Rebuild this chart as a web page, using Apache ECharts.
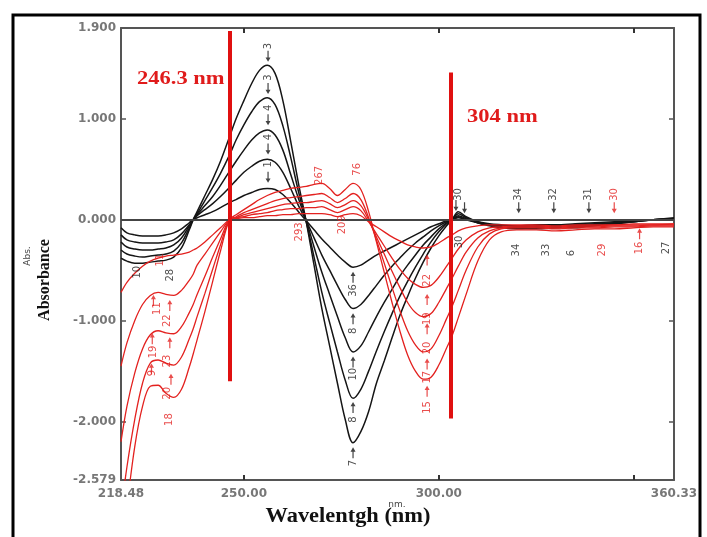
<!DOCTYPE html>
<html><head><meta charset="utf-8">
<script src="https://cdn.jsdelivr.net/npm/echarts@6/dist/echarts.min.js"></script>
<style>html,body{margin:0;padding:0;background:#fff}#c{width:707px;height:537px}</style>
</head><body><div id="c"></div>
<script>
const wavelength = [218.48,220,222,224,226,228,230,232,234,236,237,238,240,242,244,246.3,248,250,252,254,256,258,260,262,264,266,268,270,272,274,276,278,280,282,284,286,288,290,292,294,296,298,300,302,303.4,305,307,310,313,316,320,325,330,335,340,345,350,355,360.33];

const black1 = [-0.38,-0.41,-0.43,-0.43,-0.42,-0.41,-0.40,-0.37,-0.28,-0.10,0.00,0.08,0.24,0.40,0.58,0.82,1.00,1.18,1.35,1.48,1.53,1.45,1.18,0.78,0.36,-0.02,-0.45,-0.88,-1.25,-1.62,-1.98,-2.21,-2.10,-1.90,-1.62,-1.40,-1.17,-0.95,-0.76,-0.58,-0.42,-0.28,-0.16,-0.06,0.00,0.08,0.03,-0.02,-0.05,-0.07,-0.08,-0.09,-0.08,-0.07,-0.06,-0.04,-0.02,0.00,0.02];
const black2 = [-0.30,-0.34,-0.36,-0.37,-0.36,-0.35,-0.34,-0.31,-0.23,-0.08,0.00,0.06,0.19,0.32,0.46,0.64,0.79,0.94,1.07,1.17,1.21,1.14,0.93,0.62,0.28,-0.02,-0.37,-0.72,-1.02,-1.31,-1.59,-1.77,-1.68,-1.50,-1.30,-1.11,-0.93,-0.76,-0.61,-0.47,-0.34,-0.22,-0.12,-0.04,0.00,0.06,0.02,-0.03,-0.06,-0.08,-0.09,-0.08,-0.07,-0.08,-0.05,-0.04,-0.02,0.00,0.01];
const black3 = [-0.22,-0.27,-0.29,-0.30,-0.30,-0.29,-0.28,-0.25,-0.18,-0.06,0.00,0.05,0.14,0.23,0.34,0.48,0.58,0.69,0.79,0.86,0.89,0.84,0.69,0.45,0.21,-0.01,-0.27,-0.52,-0.74,-0.96,-1.17,-1.31,-1.25,-1.11,-0.96,-0.82,-0.69,-0.56,-0.45,-0.35,-0.25,-0.17,-0.09,-0.03,0.00,0.04,0.01,-0.03,-0.05,-0.07,-0.08,-0.07,-0.08,-0.06,-0.05,-0.03,-0.02,0.00,0.01];
const black4 = [-0.15,-0.20,-0.22,-0.23,-0.23,-0.23,-0.22,-0.20,-0.14,-0.05,0.00,0.04,0.10,0.16,0.23,0.32,0.39,0.47,0.53,0.58,0.60,0.57,0.47,0.31,0.14,-0.01,-0.18,-0.35,-0.50,-0.65,-0.79,-0.88,-0.84,-0.75,-0.65,-0.55,-0.46,-0.38,-0.30,-0.23,-0.17,-0.11,-0.06,-0.02,0.00,0.03,0.00,-0.03,-0.05,-0.06,-0.07,-0.06,-0.06,-0.05,-0.04,-0.03,-0.01,0.00,0.01];
const black5 = [-0.08,-0.13,-0.15,-0.16,-0.16,-0.16,-0.15,-0.13,-0.09,-0.03,0.00,0.02,0.05,0.08,0.12,0.17,0.20,0.24,0.27,0.30,0.31,0.30,0.25,0.17,0.08,-0.01,-0.10,-0.19,-0.27,-0.35,-0.42,-0.47,-0.45,-0.40,-0.35,-0.31,-0.27,-0.23,-0.19,-0.15,-0.11,-0.07,-0.04,-0.01,0.00,0.02,0.00,-0.02,-0.04,-0.05,-0.06,-0.05,-0.05,-0.04,-0.03,-0.02,-0.01,0.00,0.00];

const red1 = [-0.72,-0.62,-0.53,-0.46,-0.41,-0.38,-0.36,-0.35,-0.34,-0.32,-0.30,-0.28,-0.22,-0.15,-0.08,0.00,0.01,0.02,0.02,0.03,0.04,0.04,0.05,0.05,0.06,0.06,0.06,0.06,0.05,0.03,0.05,0.06,0.04,-0.02,-0.07,-0.12,-0.17,-0.21,-0.25,-0.27,-0.28,-0.27,-0.23,-0.18,-0.15,-0.11,-0.08,-0.06,-0.05,-0.05,-0.05,-0.05,-0.06,-0.05,-0.05,-0.05,-0.04,-0.04,-0.04];
const red2 = [-1.45,-1.22,-1.00,-0.84,-0.75,-0.72,-0.74,-0.75,-0.70,-0.60,-0.54,-0.45,-0.34,-0.23,-0.12,0.00,0.02,0.03,0.05,0.06,0.07,0.09,0.10,0.11,0.11,0.12,0.12,0.13,0.10,0.07,0.10,0.13,0.09,-0.02,-0.14,-0.26,-0.38,-0.49,-0.58,-0.64,-0.67,-0.65,-0.57,-0.46,-0.38,-0.29,-0.20,-0.12,-0.08,-0.07,-0.06,-0.06,-0.07,-0.06,-0.06,-0.05,-0.05,-0.05,-0.04];
const red3 = [-2.20,-1.85,-1.52,-1.28,-1.14,-1.10,-1.12,-1.13,-1.06,-0.92,-0.84,-0.74,-0.56,-0.37,-0.19,0.00,0.02,0.05,0.07,0.09,0.11,0.13,0.15,0.16,0.17,0.17,0.18,0.19,0.16,0.12,0.15,0.19,0.14,0.00,-0.17,-0.34,-0.51,-0.67,-0.82,-0.92,-0.96,-0.93,-0.82,-0.68,-0.58,-0.46,-0.32,-0.18,-0.11,-0.08,-0.07,-0.07,-0.08,-0.07,-0.07,-0.06,-0.06,-0.05,-0.05];
const red4 = [-2.90,-2.45,-1.98,-1.62,-1.42,-1.39,-1.42,-1.44,-1.36,-1.18,-1.08,-0.96,-0.73,-0.49,-0.25,0.00,0.03,0.07,0.10,0.13,0.16,0.19,0.21,0.22,0.23,0.24,0.25,0.26,0.22,0.17,0.21,0.26,0.20,0.02,-0.20,-0.43,-0.67,-0.90,-1.10,-1.24,-1.31,-1.28,-1.15,-0.98,-0.86,-0.70,-0.50,-0.27,-0.14,-0.09,-0.08,-0.08,-0.09,-0.08,-0.08,-0.07,-0.07,-0.06,-0.06];
const red5 = [-3.40,-2.85,-2.25,-1.85,-1.65,-1.64,-1.72,-1.76,-1.68,-1.46,-1.33,-1.19,-0.91,-0.61,-0.31,0.00,0.05,0.10,0.15,0.20,0.24,0.27,0.29,0.31,0.32,0.33,0.35,0.36,0.31,0.24,0.30,0.36,0.30,0.08,-0.22,-0.52,-0.82,-1.10,-1.34,-1.50,-1.58,-1.56,-1.44,-1.27,-1.15,-0.97,-0.74,-0.41,-0.20,-0.12,-0.10,-0.10,-0.11,-0.10,-0.09,-0.09,-0.08,-0.07,-0.07];

const xTickLabels = [218.48, 250, 300, 360.33];
const xTicks = [250, 300, 350];
const yTickLabels = [1.9, 1, 0, -1, -2, -2.579];
const yTicks = [1, 0, -1, -2];

const markerWavelengths = [246.3, 303.1];
const markerTop = [1.87, 1.46];
const markerBottom = [-1.60, -1.97];

const tagWavelength = [256.2,256.2,256.2,256.2,256.2, 278,278,278,278,278, 297,297,297,297,297, 227.7,230.3,226.7,230.3,226.5,230.5,230.8, 222.6,228.6,231.2, 269.5,279.0,264.3,275.4, 305.0,305.2, 320.5,329.5,338.5,345.0,319.8,327.5,334.0,342.0,351.5,358.5];
const tagValue = [1.72,1.41,1.11,0.82,0.55, -0.70,-1.10,-1.53,-1.98,-2.41, -0.60,-0.98,-1.27,-1.56,-1.86, -0.88,-1.00,-1.31,-1.40,-1.52,-1.72,-1.98, -0.52,-0.40,-0.55, 0.44,0.50,-0.12,-0.05, 0.25,-0.22, 0.25,0.25,0.25,0.25,-0.30,-0.30,-0.33,-0.30,-0.28,-0.28];
const tagText = ["3","3","4","4","1", "36","8","10","8","7", "22","19","20","17","15", "11","22","19","23","9","20","18", "10","11","28", "267","76","293","209", "30","30", "34","32","31","30","34","33","6","29","16","27"];
const tagIsRed = [0,0,0,0,0, 0,0,0,0,0, 1,1,1,1,1, 1,1,1,1,1,1,1, 0,1,0, 1,1,1,1, 0,0, 0,0,0,1,0,0,0,1,1,0];

const arrowWavelength = [256.2,256.2,256.2,256.2,256.2, 278,278,278,278,278, 297,297,297,297,297, 226.8,231.0,226.5,231.0,226.3,231.3, 304.4,306.6, 320.5,329.5,338.5,345.0,351.5];
const arrowValue = [1.62,1.30,0.99,0.70,0.42, -0.57,-0.98,-1.41,-1.86,-2.31, -0.40,-0.79,-1.08,-1.43,-1.70, -0.80,-0.85,-1.18,-1.22,-1.48,-1.58, 0.14,0.12, 0.12,0.12,0.12,0.12,-0.14];
const arrowUp = [0,0,0,0,0, 1,1,1,1,1, 1,1,1,1,1, 1,1,1,1,1,1, 0,0, 0,0,0,0,1];
const arrowIsRed = [0,0,0,0,0, 0,0,0,0,0, 1,1,1,1,1, 1,1,1,1,1,1, 0,0, 0,0,0,1,1];

const BLACK = '#151515', RED = '#e3211f';
const chart = echarts.init(document.getElementById('c'), null, {renderer: 'canvas'});
const pairs = ys => wavelength.map((w, i) => [w, ys[i]]);
const lineSeries = (ys, color, w) => ({type: 'line', data: pairs(ys), smooth: 0.35, showSymbol: false, symbol: 'none', clip: true, lineStyle: {color: color, width: w}, silent: true, z: 3});

const axisLineStyle = {color: '#555', width: 2};
const labelFont = {color: '#777', fontWeight: 'bold', fontSize: 12, fontFamily: 'DejaVu Sans'};

const series = [
  lineSeries(black1, BLACK, 1.5), lineSeries(black2, BLACK, 1.5), lineSeries(black3, BLACK, 1.5), lineSeries(black4, BLACK, 1.5), lineSeries(black5, BLACK, 1.5),
  lineSeries(red1, RED, 1.3), lineSeries(red2, RED, 1.3), lineSeries(red3, RED, 1.3), lineSeries(red4, RED, 1.3), lineSeries(red5, RED, 1.3),
  {type: 'line', data: [], silent: true,
    markLine: {silent: true, symbol: ['none', 'none'], label: {show: false}, animation: false,
      data: [{yAxis: 0, lineStyle: {color: '#444', width: 2, type: 'solid'}}].concat(
        markerWavelengths.map((w, i) => [{coord: [w, markerTop[i]], lineStyle: {color: '#e01010', width: 4, type: 'solid'}}, {coord: [w, markerBottom[i]]}])
      )}},
  {type: 'scatter', silent: true, z: 5,
    data: arrowWavelength.map((w, i) => ({value: [w, arrowValue[i]], symbolRotate: arrowUp[i] ? 0 : 180, itemStyle: {color: arrowIsRed[i] ? RED : BLACK}})),
    symbol: 'path://M5,0 L10,7 L6.2,7 L6.2,18 L3.8,18 L3.8,7 L0,7 Z', symbolSize: [5, 11]},
  {type: 'scatter', silent: true, z: 6, symbolSize: 0,
    data: tagWavelength.map((w, i) => ({value: [w, tagValue[i]], name: tagText[i],
      label: {show: true, position: 'inside', formatter: tagText[i], rotate: 90, fontSize: 10, fontFamily: 'DejaVu Sans', color: tagIsRed[i] ? RED : '#222'}}))}
];

chart.setOption({
  animation: false,
  backgroundColor: '#fff',
  grid: {left: 121, right: 33, top: 28, bottom: 57, show: false},
  xAxis: [
    {type: 'value', min: 218.48, max: 360.33, position: 'bottom',
      axisLine: {show: true, onZero: false, lineStyle: axisLineStyle},
      axisTick: {show: true, inside: true, length: 5, customValues: xTicks, lineStyle: {color: '#333', width: 2}},
      axisLabel: Object.assign({customValues: xTickLabels, formatter: v => Number(v).toFixed(2), margin: 8}, labelFont),
      splitLine: {show: false}},
    {type: 'value', min: 218.48, max: 360.33, position: 'top',
      axisLine: {show: true, onZero: false, lineStyle: axisLineStyle},
      axisTick: {show: true, inside: true, length: 5, customValues: xTicks, lineStyle: {color: '#333', width: 2}},
      axisLabel: {show: false}, splitLine: {show: false}}
  ],
  yAxis: [
    {type: 'value', min: -2.579, max: 1.9, position: 'left',
      axisLine: {show: true, onZero: false, lineStyle: axisLineStyle},
      axisTick: {show: true, inside: true, length: 5, customValues: yTicks, lineStyle: {color: '#555', width: 1.5}},
      axisLabel: Object.assign({customValues: yTickLabels, formatter: v => Number(v).toFixed(3), margin: 5}, labelFont),
      splitLine: {show: false}},
    {type: 'value', min: -2.579, max: 1.9, position: 'right',
      axisLine: {show: true, onZero: false, lineStyle: axisLineStyle},
      axisTick: {show: true, inside: true, length: 5, customValues: yTicks, lineStyle: {color: '#555', width: 1.5}},
      axisLabel: {show: false}, splitLine: {show: false}}
  ],
  series: series,
  graphic: [
    {type: 'rect', shape: {x: 13, y: 15, width: 687, height: 540}, style: {fill: 'none', stroke: '#000', lineWidth: 3}, silent: true},
    {type: 'text', x: 137, y: 70, scaleX: 1.25, style: {text: '246.3 nm', font: 'bold 18px "Liberation Serif"', fill: '#e01b1b', textVerticalAlign: 'top'}},
    {type: 'text', x: 467, y: 108, scaleX: 1.25, style: {text: '304 nm', font: 'bold 18px "Liberation Serif"', fill: '#e01b1b', textVerticalAlign: 'top'}},
    {type: 'text', x: 348, y: 517, scaleX: 1.12, style: {text: 'Wavelentgh (nm)', font: 'bold 20px "Liberation Serif"', fill: '#111', textAlign: 'center', textVerticalAlign: 'middle'}},
    {type: 'text', x: 397, y: 505, style: {text: 'nm.', font: '9px "DejaVu Sans"', fill: '#444', textAlign: 'center', textVerticalAlign: 'middle'}},
    {type: 'text', x: 45, y: 280, rotation: Math.PI / 2, style: {text: 'Absorbance', font: 'bold 16px "Liberation Serif"', fill: '#111', textAlign: 'center', textVerticalAlign: 'middle'}},
    {type: 'text', x: 28, y: 256, rotation: Math.PI / 2, style: {text: 'Abs.', font: '9px "DejaVu Sans"', fill: '#444', textAlign: 'center', textVerticalAlign: 'middle'}}
  ]
});
</script></body></html>
